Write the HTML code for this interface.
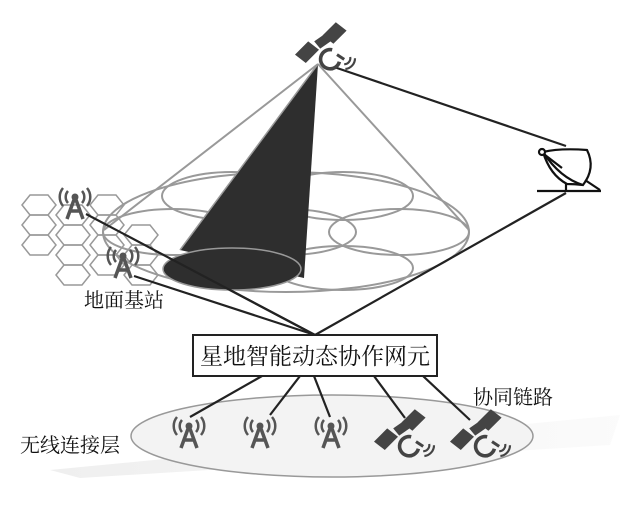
<!DOCTYPE html>
<html><head><meta charset="utf-8"><style>
html,body{margin:0;padding:0;background:#fff;}
svg{display:block;}
text{font-family:"Liberation Serif","Noto Serif CJK SC",serif;fill:#111;}
</style></head><body>
<svg width="637" height="516" viewBox="0 0 637 516" xmlns="http://www.w3.org/2000/svg">
<defs>
  <linearGradient id="sh" x1="0" x2="1">
    <stop offset="0" stop-color="#e4e4e4"/><stop offset="1" stop-color="#f8f8f8"/>
  </linearGradient>
  <g id="tower">
    <circle cx="0" cy="0" r="3.5" fill="#555"/>
    <path d="M0,0 L-8,22 M0,0 L8,22 M-5,14 L5,14" stroke="#555" stroke-width="3.5" fill="none"/>
    <path d="M-7,-6 A9,9 0 0 0 -7,6 M-12,-9 A14,14 0 0 0 -12,9 M7,-6 A9,9 0 0 1 7,6 M12,-9 A14,14 0 0 1 12,9" stroke="#555" stroke-width="2.5" fill="none"/>
  </g>
  <g id="sat0">
    <path d="M-25,8 L-14,-3 L-5,4 L-16,15 Z" fill="#444"/>
    <path d="M-2,-8 L9,-19 L18,-12 L7,-1 Z" fill="#444"/>
    <path d="M-9,-3 L1,-10 L6,-4 L-4,3 Z" fill="#444"/>
    <path d="M6,4 A8,8 0 1 0 12,14" stroke="#444" stroke-width="3" fill="none"/>
    <path d="M10,8 L16,12" stroke="#444" stroke-width="2.5"/>
    <path d="M16,16 A5,5 0 0 0 21,10 M17,20 A9,9 0 0 0 25,11" stroke="#444" stroke-width="1.8" fill="none"/>
  </g>
  <g id="sat"><use href="#sat0" transform="scale(1.2)"/></g>
</defs>

<!-- hex grid -->
<g stroke="#999" stroke-width="1.5" fill="none">
  <path d="M22,205 l8,-10 h18 l8,10 l-8,10 h-18 z"/>
  <path d="M22,225 l8,-10 h18 l8,10 l-8,10 h-18 z"/>
  <path d="M22,245 l8,-10 h18 l8,10 l-8,10 h-18 z"/>
  <path d="M56,215 l8,-10 h18 l8,10 l-8,10 h-18 z"/>
  <path d="M56,235 l8,-10 h18 l8,10 l-8,10 h-18 z"/>
  <path d="M56,255 l8,-10 h18 l8,10 l-8,10 h-18 z"/>
  <path d="M56,275 l8,-10 h18 l8,10 l-8,10 h-18 z"/>
  <path d="M90,205 l8,-10 h18 l8,10 l-8,10 h-18 z"/>
  <path d="M90,225 l8,-10 h18 l8,10 l-8,10 h-18 z"/>
  <path d="M90,245 l8,-10 h18 l8,10 l-8,10 h-18 z"/>
  <path d="M90,265 l8,-10 h18 l8,10 l-8,10 h-18 z"/>
  <path d="M124,235 l8,-10 h18 l8,10 l-8,10 h-18 z"/>
  <path d="M124,255 l8,-10 h18 l8,10 l-8,10 h-18 z"/>
  <path d="M124,275 l8,-10 h18 l8,10 l-8,10 h-18 z"/>
</g>

<!-- cone -->
<g stroke="#999" stroke-width="2" fill="none">
  <line x1="318" y1="64" x2="104" y2="230"/>
  <line x1="318" y1="64" x2="469" y2="230"/>
  <ellipse cx="286" cy="232" rx="183" ry="60"/>
  <ellipse cx="232" cy="196" rx="70" ry="24"/>
  <ellipse cx="343" cy="196" rx="70" ry="24"/>
  <ellipse cx="173" cy="232" rx="70" ry="23"/>
  <ellipse cx="399" cy="232" rx="70" ry="23"/>
  <ellipse cx="286" cy="232" rx="70" ry="23"/>
  <ellipse cx="343" cy="268" rx="70" ry="22"/>
</g>
<path d="M318,64 L180,250 L304,278 Z" fill="#2e2e2e"/>
<ellipse cx="232" cy="269" rx="69" ry="21" fill="#2e2e2e" stroke="#999" stroke-width="1.5"/>
<path d="M318,64 L180,250" stroke="#999" stroke-width="1.5"/>

<!-- links -->
<g stroke="#222" stroke-width="2.2" fill="none">
  <line x1="334" y1="67" x2="566" y2="146"/>
  <line x1="566" y1="193" x2="315" y2="335"/>
  <line x1="86" y1="214" x2="315" y2="335"/>
  <line x1="134" y1="276" x2="315" y2="335"/>
  <line x1="230" y1="290" x2="315" y2="335"/>
</g>

<use href="#sat" x="325" y="45"/>
<!-- dish -->
<g stroke="#111" stroke-width="2.2" fill="none">
  <path d="M543,152 Q560,148 587,150 Q596,168 583,185 Q560,178 543,152 Z" fill="#fff"/>
  <path d="M543,152 Q550,175 567,184 Q575,184 583,185"/>
  <circle cx="542" cy="152" r="3" fill="#fff"/>
  <line x1="545" y1="155" x2="562" y2="168"/>
  <line x1="566" y1="183" x2="566" y2="190"/>
  <path d="M585,180 L600,190"/>
  <line x1="537" y1="191" x2="601" y2="191"/>
</g>

<use href="#tower" x="75" y="197"/>
<use href="#tower" x="123" y="256"/>
<text x="84" y="307" font-size="20">地面基站</text>

<!-- node -->
<rect x="193" y="335" width="244" height="41" fill="#fff" stroke="#222" stroke-width="2"/>
<text x="315" y="364" font-size="23" text-anchor="middle">星地智能动态协作网元</text>

<!-- bottom layer -->
<path d="M50,470 L620,415 L610,445 L80,478 Z" fill="url(#sh)" opacity="0.6"/>
<ellipse cx="332" cy="436" rx="201" ry="41" fill="#f3f3f3" stroke="#999" stroke-width="1.5"/>
<g stroke="#222" stroke-width="2.2">
  <line x1="262" y1="376" x2="190" y2="417"/>
  <line x1="300" y1="376" x2="270" y2="415"/>
  <line x1="314" y1="376" x2="330" y2="417"/>
  <line x1="374" y1="376" x2="405" y2="418"/>
  <line x1="423" y1="376" x2="470" y2="420"/>
</g>
<use href="#tower" x="189" y="426"/>
<use href="#tower" x="260" y="426"/>
<use href="#tower" x="331" y="426"/>
<use href="#sat" x="404" y="432"/>
<use href="#sat" x="480" y="432"/>
<text x="20" y="452" font-size="20">无线连接层</text>
<text x="473" y="404" font-size="20">协同链路</text>
</svg>
</body></html>
